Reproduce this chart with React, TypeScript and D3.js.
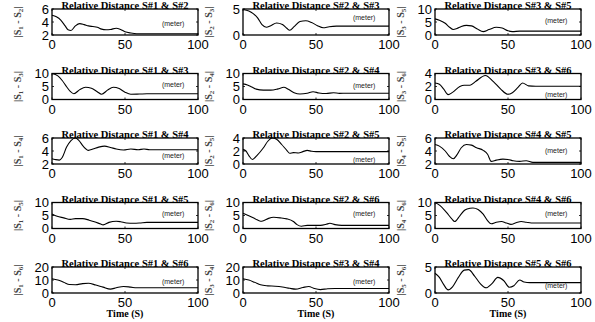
import React from 'react';
import * as d3 from 'd3';

const pairs: [number, number][] = [
  [1, 2], [2, 3], [3, 5],
  [1, 3], [2, 4], [3, 6],
  [1, 4], [2, 5], [4, 5],
  [1, 5], [2, 6], [4, 6],
  [1, 6], [3, 4], [5, 6],
];
const yDomains: [number, number][] = [
  [2, 6], [0, 5], [0, 10],
  [0, 10], [0, 10], [0, 4],
  [2, 6], [0, 4], [2, 6],
  [0, 10], [0, 10], [0, 10],
  [0, 20], [0, 20], [0, 5],
];
const yTickLists: number[][] = [
  [2, 4, 6], [0, 5], [0, 5, 10],
  [0, 5, 10], [0, 5, 10], [0, 2, 4],
  [2, 4, 6], [0, 2, 4], [2, 4, 6],
  [0, 5, 10], [0, 5, 10], [0, 5, 10],
  [0, 10, 20], [0, 10, 20], [0, 5],
];
const meterY = [3.8, 3.3, 5.6, 5.7, 5.4, 0.7, 3.3, 0.7, 4.1, 5.9, 5.9, 5.9, 9, 9, 1.4];
const xTicks = [0, 50, 100];

const s12: [number, number][] = [[0,5.05],[3,4.8],[6,4.3],[9,3.4],[11,2.8],[13,2.7],[16,3.4],[19,3.75],[22,3.6],[25,3.4],[28,3.3],[31,3.2],[34,2.9],[37,2.8],[40,2.85],[44,3.05],[47,2.85],[50,2.5],[54,2.3],[58,2.2],[100,2.2]];
const s23: [number, number][] = [[0,4.9],[4,4.6],[7,4.1],[10,3.3],[13,2.0],[16,1.5],[19,1.8],[23,2.3],[27,2.0],[30,1.3],[32,0.9],[35,1.6],[39,2.6],[43,2.75],[47,2.4],[51,1.8],[55,1.4],[59,1.6],[64,1.7],[100,1.7]];
const s35: [number, number][] = [[0,6.2],[3,5.7],[7,4.5],[10,3.0],[12.5,2.1],[15,2.5],[18,3.3],[21.5,3.7],[25,3.5],[29,2.3],[33,1.3],[37,2.1],[42,3.0],[46,2.7],[50,1.6],[53,1.3],[58,1.5],[100,1.5]];
const s13: [number, number][] = [[0,10],[4,9.1],[7,7.3],[10,4.9],[12.5,3.1],[15,2.2],[19,3.8],[23,4.7],[27,4.3],[31,3.0],[34,2.0],[38,3.6],[42,4.7],[46,4.2],[50,2.8],[54,2.0],[60,2.1],[65,2.2],[100,2.2]];
const s24: [number, number][] = [[0,6.0],[3,5.6],[6,4.8],[9,4.0],[14,3.6],[19,3.6],[24,4.1],[28,4.7],[31,3.9],[35,2.6],[39,2.1],[44,2.4],[48,3.0],[52,2.5],[57,2.3],[62,2.6],[66,2.35],[71,2.4],[100,2.4]];
const s36: [number, number][] = [[0,2.55],[3,2.35],[6,1.6],[9,0.75],[12,1.1],[17,2.0],[20,2.2],[24,2.2],[28,2.8],[34.5,3.7],[40,2.75],[45,1.6],[50,0.8],[53,1.05],[57,1.9],[60,2.55],[64,2.1],[69,2.05],[100,2.05]];
const s14: [number, number][] = [[0,2.8],[2,2.7],[5,2.6],[7,3.0],[10,4.6],[13,5.6],[16,6.0],[18.5,5.6],[21.5,4.7],[25,4.1],[28,4.3],[32,4.6],[36,4.75],[40,4.55],[44,4.3],[49,4.15],[54,4.3],[59,4.2],[63,4.3],[67,4.2],[100,4.2]];
const s25: [number, number][] = [[0,2.25],[2,2.0],[4,1.3],[6.5,0.7],[9.5,1.3],[14,2.5],[17,3.5],[20,4.0],[23,3.8],[26.5,3.0],[30,2.1],[32,1.65],[34.5,1.75],[38,1.7],[41,1.9],[44,2.1],[47,1.95],[50,1.9],[100,1.9]];
const s45: [number, number][] = [[0,5.0],[3,4.75],[7,4.0],[10,3.15],[12.5,2.8],[15,3.4],[18,4.5],[21.5,5.0],[25,4.9],[28.5,4.5],[33,4.1],[36,3.5],[38.5,2.4],[42,2.6],[46.5,2.75],[50,2.7],[53.5,2.5],[58,2.4],[62.5,2.5],[67,2.25],[100,2.25]];
const s15: [number, number][] = [[0,5.6],[3.5,4.7],[8,4.1],[12.5,3.5],[16,3.8],[21,3.8],[25.5,3.2],[29,2.6],[33,1.8],[35,1.4],[39,2.35],[44,2.8],[47,2.6],[51,2.1],[56,2.0],[60,2.1],[65,2.35],[100,2.35]];
const s26: [number, number][] = [[0,5.85],[4,4.9],[8.5,3.7],[12,2.8],[14,3.0],[17.5,3.9],[21,4.3],[25.5,4.1],[30,3.7],[34.5,2.7],[37,1.5],[40,0.85],[44,1.2],[48,1.2],[53,1.2],[57,1.6],[59.5,2.0],[63,1.5],[67.5,1.2],[100,1.2]];
const s46: [number, number][] = [[0,10],[3.5,8.8],[8,6.1],[11.5,3.7],[13.5,2.7],[17,4.9],[20.5,7.1],[24,7.8],[26,7.9],[29.5,7.3],[33,5.5],[36,3.0],[38.5,1.8],[42,2.4],[45.5,2.7],[49,2.1],[52,1.6],[55.5,2.2],[59,2.7],[62.5,2.4],[66,2.1],[100,2.1]];
const s16: [number, number][] = [[0,11],[4,10],[8,8.3],[12,6.5],[16,6.4],[21,7.2],[25,7.5],[30,6.1],[35,4.5],[40,3.0],[44,4.0],[49,5.0],[54,4.5],[58,4.0],[70,4.0],[100,4.0]];
const s34: [number, number][] = [[0,11],[4,10],[8,8.2],[12,6.3],[17,5.5],[22,5.2],[27,4.6],[32,3.6],[36,3.0],[41,4.2],[45,5.0],[49,3.4],[53,2.6],[58,3.3],[63,3.5],[100,3.5]];
const s56: [number, number][] = [[0,3.8],[3,3.0],[6,1.6],[9,0.6],[12,1.2],[16,3.0],[20,4.4],[23,4.5],[27,3.3],[31,1.8],[35,1.0],[39,1.8],[43,3.0],[47,2.4],[51,1.1],[54,1.4],[58,2.5],[61,2.1],[65,2.0],[100,2.0]];

const series = [s12, s23, s35, s13, s24, s36, s14, s25, s45, s15, s26, s46, s16, s34, s56];

const colLefts = [52, 243, 435];
const rowTops = [9, 73.5, 138, 202.5, 267];
const plotW = 146;
const plotH = 26;

function Panel({ i }: { i: number }) {
  const r = Math.floor(i / 3);
  const c = i % 3;
  const left = colLefts[c];
  const top = rowTops[r];
  const x = d3.scaleLinear().domain([0, 100]).range([0, plotW]);
  const y = d3.scaleLinear().domain(yDomains[i]).range([plotH, 0]);
  const line = d3.line<[number, number]>().x((d) => x(d[0])).y((d) => y(d[1])).curve(d3.curveMonotoneX);
  const [a, b] = pairs[i];
  return (
    <g transform={`translate(${left},${top})`}>
      <path d={line(series[i]) || ''} fill="none" stroke="#000" strokeWidth={1.1} />
      {xTicks.map((t) => (
        <g key={'x' + t}>
          <line x1={x(t)} x2={x(t)} y1={plotH} y2={plotH - 2} stroke="#000" strokeWidth={0.8} />
          <line x1={x(t)} x2={x(t)} y1={0} y2={2} stroke="#000" strokeWidth={0.8} />
          <text x={x(t)} y={plotH + 14} textAnchor="middle" fontFamily="Liberation Sans, Arial" fontSize={13}>{t}</text>
        </g>
      ))}
      {yTickLists[i].map((t) => (
        <g key={'y' + t}>
          <line x1={0} x2={2} y1={y(t)} y2={y(t)} stroke="#000" strokeWidth={0.8} />
          <line x1={plotW} x2={plotW - 2} y1={y(t)} y2={y(t)} stroke="#000" strokeWidth={0.8} />
          <text x={-3} y={y(t) + 4.5} textAnchor="end" fontFamily="Liberation Sans, Arial" fontSize={13}>{t}</text>
        </g>
      ))}
      <rect x={0} y={0} width={plotW} height={plotH} fill="none" stroke="#000" strokeWidth={1.3} />
      <text x={plotW / 2} y={0} textAnchor="middle" fontFamily="Liberation Serif, Times New Roman" fontWeight="bold" fontSize={10.5}>
        {`Relative Distance S#${a} & S#${b}`}
      </text>
      <text x={x(83)} y={y(meterY[i]) + 2.5} textAnchor="middle" fontFamily="Liberation Sans, Arial" fontSize={7} fill="#222">(meter)</text>
      <text transform={`translate(${-31},${plotH / 2}) rotate(-90)`} textAnchor="middle" fontFamily="Liberation Serif, Times New Roman" fontWeight="bold" fontSize={10} fill="#444">
        {'|S'}<tspan fontSize={7} dy={2}>{a}</tspan><tspan dy={-2}>{' - S'}</tspan><tspan fontSize={7} dy={2}>{b}</tspan><tspan dy={-2}>{'|'}</tspan>
      </text>
      {r === 4 && (
        <text x={plotW / 2} y={plotH + 24} textAnchor="middle" fontFamily="Liberation Serif, Times New Roman" fontWeight="bold" fontSize={10}>Time (S)</text>
      )}
    </g>
  );
}

export default function App() {
  return (
    <svg width={595} height={322} style={{ position: 'absolute', left: 0, top: 0, background: '#fff' }}>
      <rect width={595} height={322} fill="#fff" />
      {series.map((_, i) => <Panel key={i} i={i} />)}
    </svg>
  );
}
